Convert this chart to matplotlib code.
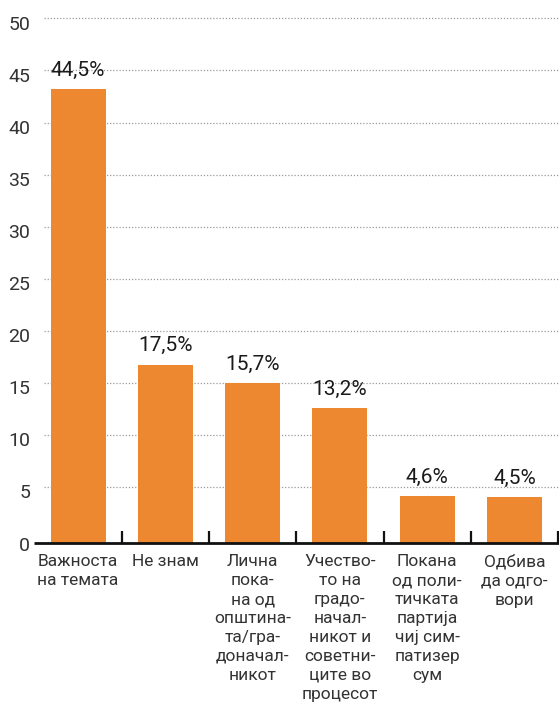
import matplotlib.pyplot as plt
from matplotlib.transforms import ScaledTranslation

categories = [
    'Важноста\nна темата',
    'Не знам',
    'Лична\nпока-\nна од\nопштина-\nта/гра-\nдоначал-\nникот',
    'Учество-\nто на\nградо-\nначал-\nникот и\nсоветни-\nците во\nпроцесот',
    'Покана\nод поли-\nтичката\nпартија\nчиј сим-\nпатизер\nсум',
    'Одбива\nда одго-\nвори',
]
values = [44.5, 17.5, 15.7, 13.2, 4.6, 4.5]
value_labels = ['44,5%', '17,5%', '15,7%', '13,2%', '4,6%', '4,5%']
grid_ticks = [0, 5, 10, 15, 20, 25, 30, 35, 40, 45, 50]

plt.rcParams['font.family'] = ['Roboto', 'DejaVu Sans']

bar_color = '#ED8830'
text_color = '#333333'

fig = plt.figure(figsize=(5.59, 7.11), dpi=100)
rect = [44 / 559, (711 - 543) / 711, (559 - 44) / 559, (543 - 17.3) / 711]

# grid layer (its own scale, as in the original graphic)
axg = fig.add_axes(rect)
axg.set_ylim(-0.35, 50.1)
axg.set_xlim(0, 1)
for t in grid_ticks[1:]:
    axg.axhline(t, color='#9a9a9a', lw=0.9, linestyle=(0, (1, 1.5)))
axg.set_yticks(grid_ticks)
axg.tick_params(axis='y', length=0, pad=10, labelsize=14, labelcolor=text_color)
axg.set_xticks([])
for s in axg.spines.values():
    s.set_visible(False)
offset = ScaledTranslation(0, -3 / 72, fig.dpi_scale_trans)
for lab in axg.get_yticklabels():
    lab.set_transform(lab.get_transform() + offset)

# bars layer
ax = fig.add_axes(rect, facecolor='none')
ax.set_ylim(0, 51.54)
ax.set_xlim(-0.39, 5.51)
x = list(range(len(categories)))
ax.bar(x, values, width=0.63, color=bar_color, zorder=2)

for i, (v, lab) in enumerate(zip(values, value_labels)):
    ax.annotate(lab, (i, v), xytext=(0, 9.5), textcoords='offset points',
                ha='center', va='baseline', fontsize=15, color='#1a1a1a')

ax.plot([-0.5, 5.51], [0, 0], color='#111111', lw=2, clip_on=False, zorder=3,
        solid_capstyle='butt')

ax.set_xticks(x, categories)
ax.set_xticks([i + 0.5 for i in x], minor=True)
ax.tick_params(axis='x', which='major', length=0, pad=8, labelsize=12.5,
               labelcolor=text_color)
ax.tick_params(axis='x', which='minor', direction='in', length=8.5, width=1.6,
               color='#111111')
for lab in ax.get_xticklabels():
    lab.set_linespacing(1.33)
ax.set_yticks([])
for s in ax.spines.values():
    s.set_visible(False)

fig.savefig('out.png', dpi=100)
